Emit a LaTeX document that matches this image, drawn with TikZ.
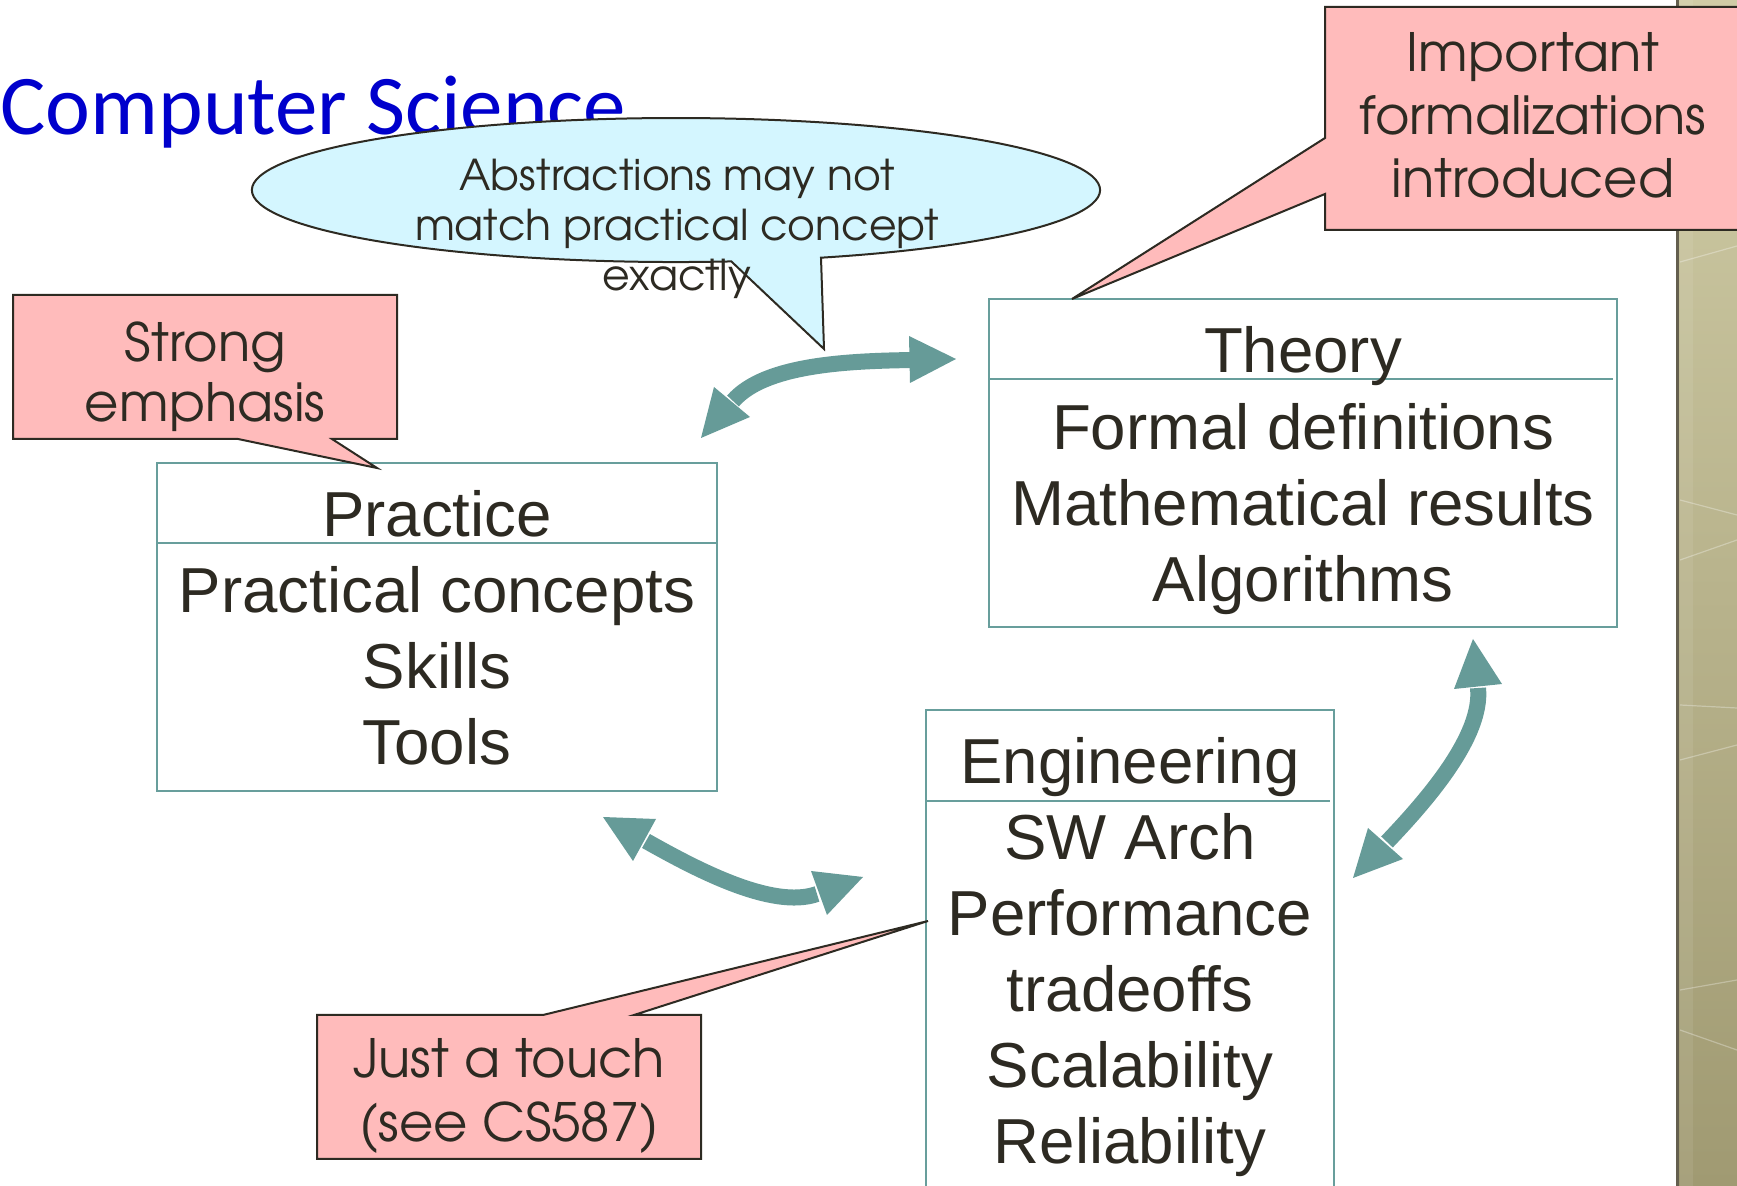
\documentclass[tikz,border=0pt]{standalone}
\usepackage{fontspec}
\newfontfamily\gothic{texgyreadventor-regular.otf}
\newfontfamily\arialf{Liberation Sans}
\newfontfamily\calib{Carlito}
\definecolor{inkc}{RGB}{45,42,34}
\definecolor{tealc}{RGB}{104,158,156}
\definecolor{arrowc}{RGB}{102,155,152}
\definecolor{pinkc}{RGB}{255,187,187}
\definecolor{cyanc}{RGB}{212,246,255}
\definecolor{titlec}{RGB}{0,0,204}
\definecolor{bartop}{RGB}{208,204,166}
\definecolor{barbot}{RGB}{160,154,114}
\definecolor{barline}{RGB}{100,95,78}
\begin{document}
\begin{tikzpicture}[x=0.5pt,y=-0.5pt,
  boxf/.style={draw=tealc, line width=1pt, rectangle, inner sep=0pt},
  boxtext/.style={anchor=base, inner sep=0pt, text=inkc, font=\arialf\fontsize{31.8pt}{38pt}\selectfont},
  calltext/.style={anchor=base, inner sep=0pt, text=inkc, font=\gothic\fontsize{26.4pt}{32pt}\selectfont},
  elltext/.style={anchor=base, inner sep=0pt, text=inkc, font=\gothic\fontsize{21.25pt}{26pt}\selectfont},
  callshape/.style={draw=inkc, line width=1pt, line join=miter},
  divline/.style={draw=tealc, line width=1pt},
  shaft/.style={draw=arrowc, line width=8pt},
  head/.style={fill=arrowc},
  faint/.style={draw=white, opacity=0.3, line width=0.6pt},
]
\useasboundingbox (0,0) rectangle (1737,1186);
% decorative bar on the right
\shade[top color=bartop, bottom color=barbot] (1677,0) rectangle (1737,1186);
\fill[white, opacity=0.08] (1680,0) rectangle (1693,1186);
\fill[barline] (1676,0) rectangle (1679,1186);
\draw[faint] (1680,262) -- (1737,246);
\draw[faint] (1680,500) -- (1737,515);
\draw[faint] (1680,560) -- (1737,540);
\draw[faint] (1680,705) -- (1737,708);
\draw[faint] (1680,760) -- (1737,745);
\draw[faint] (1680,990) -- (1737,980);
\draw[faint] (1680,1030) -- (1737,1050);

% title
\node[anchor=base west, inner sep=0pt, text=titlec, font=\calib\fontsize{42.5pt}{50pt}\selectfont] (title) at (0,135) {Computer Science};

% ellipse callout
\path[callshape, fill=cyanc] (821,257.7) arc[start angle=70, end angle=-277.5, x radius=424, y radius=72] -- (824,349) -- cycle;
\node[elltext] (ell1) at (677,191) {Abstractions may not};
\node[elltext] (ell2) at (677,241) {match practical concept};
\node[elltext] (ell3) at (677,291) {exactly};

% Theory box
\node[boxf, minimum width=314pt, minimum height=164pt] (theory) at (1303,463) {};
\draw[divline] (989,379) -- (1613,379);
\node[boxtext] (th0) at (1303,373) {Theory};
\node[boxtext] (th1) at (1303,450) {Formal definitions};
\node[boxtext] (th2) at (1303,526) {Mathematical results};
\node[boxtext] (th3) at (1303,602) {Algorithms};

% Practice box
\node[boxf, minimum width=280pt, minimum height=164pt] (practice) at (437,627) {};
\draw[divline] (157,543) -- (717,543);
\node[boxtext] (pr0) at (437,537) {Practice};
\node[boxtext] (pr1) at (437,613) {Practical concepts};
\node[boxtext] (pr2) at (437,689) {Skills};
\node[boxtext] (pr3) at (437,765) {Tools};

% Engineering box
\node[boxf, minimum width=204pt, minimum height=245pt] (eng) at (1130,955) {};
\draw[divline] (926,801) -- (1330,801);
\node[boxtext] (en0) at (1130,784) {Engineering};
\node[boxtext] (en1) at (1130,860) {SW Arch};
\node[boxtext] (en2) at (1130,936) {Performance};
\node[boxtext] (en3) at (1130,1012) {tradeoffs};
\node[boxtext] (en4) at (1130,1088) {Scalability};
\node[boxtext] (en5) at (1130,1164) {Reliability};

% pink callouts
\path[callshape, fill=pinkc] (13,295) -- (397,295) -- (397,439) -- (332,439) -- (377,468) -- (238,439) -- (13,439) -- cycle;
\node[calltext] (se1) at (205,362) {Strong};
\node[calltext] (se2) at (205,422) {emphasis};

\path[callshape, fill=pinkc] (1325,138) -- (1325,7) -- (1760,7) -- (1760,230) -- (1325,230) -- (1325,194) -- (1072,299) -- cycle;
\node[calltext] (if1) at (1533,72) {Important};
\node[calltext] (if2) at (1533,135) {formalizations};
\node[calltext] (if3) at (1533,198) {introduced};

\path[callshape, fill=pinkc] (317,1015) -- (543,1015) -- (928,921) -- (634,1015) -- (701,1015) -- (701,1159) -- (317,1159) -- cycle;
\node[calltext] (jt1) at (509,1078) {Just a touch};
\node[calltext] (jt2) at (509,1142) {(see CS587)};

% arrow Practice <-> Theory
\coordinate (a1s) at (701,438);
\coordinate (a1sb) at (733,401);
\coordinate (a1e) at (956,359);
\coordinate (a1eb) at (913,360);
\draw[shaft] (a1sb) .. controls (765,364) and (850,361) .. (a1eb);
\fill[head] (a1s) -- (714,387) -- (750,417) -- cycle;
\fill[head] (a1e) -- (909,336) -- (910,383) -- cycle;

% arrow Practice <-> Engineering
\coordinate (a2s) at (603,817);
\coordinate (a2sb) at (646,841);
\coordinate (a2e) at (863,877);
\coordinate (a2eb) at (817,894);
\draw[shaft] (a2sb) .. controls (694,868) and (772,910) .. (a2eb);
\fill[head] (a2s) -- (656,819) -- (633,861) -- cycle;
\fill[head] (a2e) -- (811,871) -- (827,915) -- cycle;

% arrow Theory <-> Engineering
\coordinate (a3s) at (1473,639);
\coordinate (a3sb) at (1478,688);
\coordinate (a3e) at (1353,878);
\coordinate (a3eb) at (1387,842);
\draw[shaft] (a3sb) .. controls (1483,736) and (1427,800) .. (a3eb);
\fill[head] (a3s) -- (1454,689) -- (1502,684) -- cycle;
\fill[head] (a3e) -- (1368,828) -- (1403,859) -- cycle;
\end{tikzpicture}
\end{document}
